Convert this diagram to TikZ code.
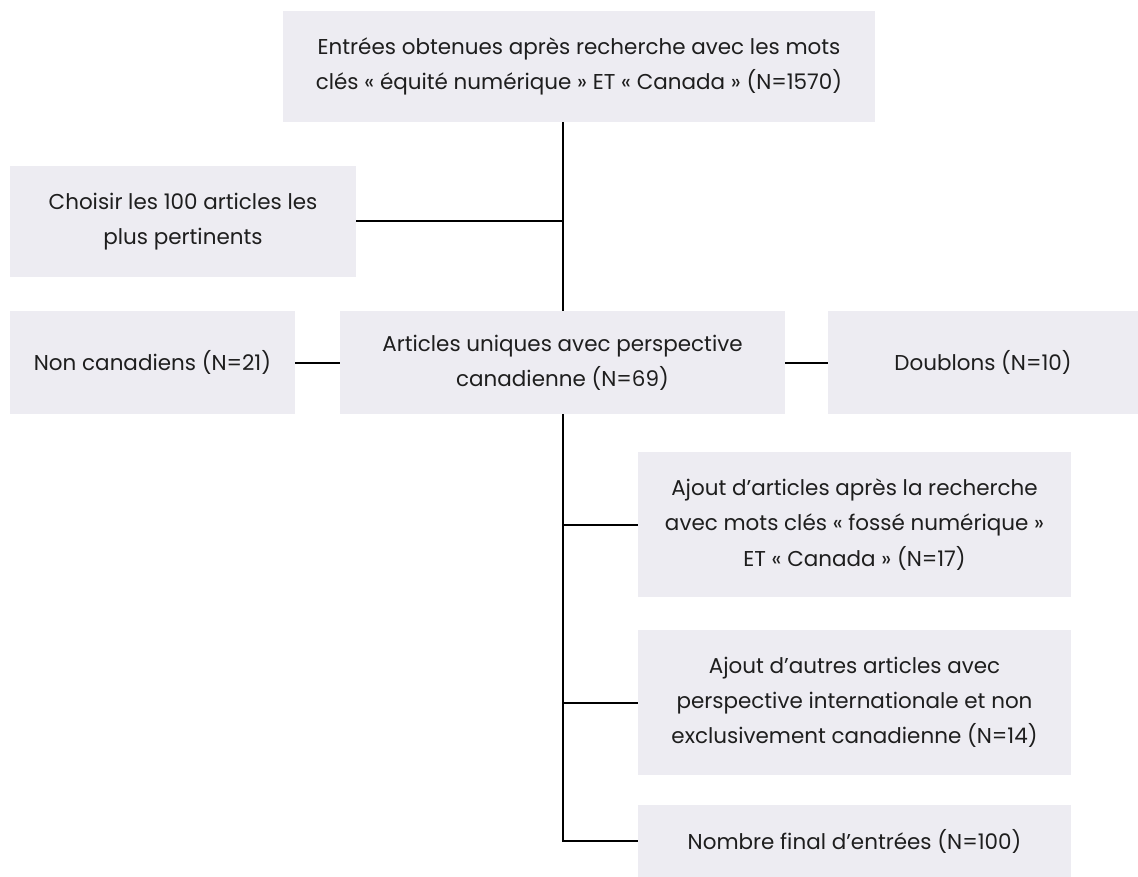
\documentclass[tikz,border=0pt]{standalone}
\usepackage{fontspec}
\setmainfont{Poppins}
\definecolor{boxfill}{RGB}{237,236,242}
\definecolor{txt}{RGB}{30,30,30}
\tikzset{
  px/.style={x=0.75pt,y=-0.75pt},
  box/.style={fill=boxfill,draw=none,inner sep=0pt,align=center,text=txt,
    font=\fontsize{16.1}{26.4}\selectfont},
  link/.style={draw=black,line width=1.5pt}
}
\begin{document}
\begin{tikzpicture}[px]
\useasboundingbox (0,0) rectangle (1138,877);
\node[box,minimum width=592*0.75pt,minimum height=111*0.75pt] (top) at (579,66.5)
  {Entrées obtenues après recherche avec les mots\\clés « équité numérique » ET « Canada » (N=1570)};
\node[box,minimum width=346*0.75pt,minimum height=111*0.75pt] (choisir) at (183,221.5)
  {Choisir les 100 articles les\\plus pertinents};
\node[box,minimum width=285*0.75pt,minimum height=103*0.75pt] (non) at (152.5,362.5)
  {Non canadiens (N=21)};
\node[box,minimum width=445*0.75pt,minimum height=103*0.75pt] (art) at (562.5,362.5)
  {Articles uniques avec perspective\\canadienne (N=69)};
\node[box,minimum width=310*0.75pt,minimum height=103*0.75pt] (doub) at (983,362.5)
  {Doublons (N=10)};
\node[box,minimum width=433*0.75pt,minimum height=145*0.75pt] (a1) at (854.5,524.5)
  {Ajout d’articles après la recherche\\avec mots clés « fossé numérique »\\ET « Canada » (N=17)};
\node[box,minimum width=433*0.75pt,minimum height=145*0.75pt] (a2) at (854.5,702.5)
  {Ajout d’autres articles avec\\perspective internationale et non\\exclusivement canadienne (N=14)};
\node[box,minimum width=433*0.75pt,minimum height=72*0.75pt] (fin) at (854.5,841)
  {Nombre final d’entrées (N=100)};
\coordinate (jc) at (art.north |- choisir.east);
\draw[link] (art.north |- top.south) -- (art.north);
\draw[link] (choisir.east) -- (jc);
\draw[link] (non.east) -- (art.west);
\draw[link] (art.east) -- (doub.west);
\draw[link] (art.south) -- (art.south |- fin.west) -- (fin.west);
\draw[link] (art.south |- a1.west) -- (a1.west);
\draw[link] (art.south |- a2.west) -- (a2.west);
\end{tikzpicture}
\end{document}
